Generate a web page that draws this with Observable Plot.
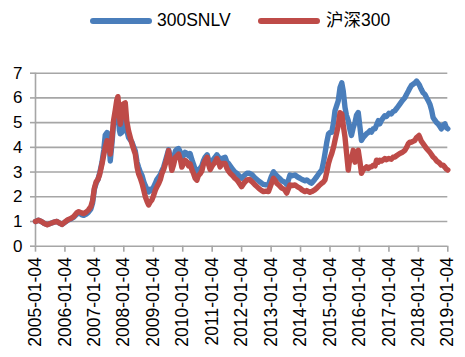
<!DOCTYPE html>
<html>
<head>
<meta charset="utf-8">
<script src="https://cdn.jsdelivr.net/npm/d3@7"></script>
<script src="https://cdn.jsdelivr.net/npm/@observablehq/plot@0.6"></script>
<style>
  body { margin: 0; background: #fff; font-family: "Liberation Sans", Arial, "Noto Sans CJK SC", sans-serif; }
  #wrap { width: 465px; }
  #legend { position: relative; height: 40px; width: 465px; }
  .sw { position: absolute; top: 18px; width: 62px; height: 6px; border-radius: 3px; }
  .lb { position: absolute; top: 10px; font-size: 17.5px; line-height: 20px; color: #000; white-space: nowrap; }
  svg { display: block; }
</style>
</head>
<body>
<div id="wrap">
  <div id="legend"></div>
  <div id="chart"></div>
</div>
<script>
const seriesNames = ["300SNLV", "沪深300"];
const seriesColors = ["#4a7ebb", "#be4b48"];
const tickLabels = ["2005-01-04","2006-01-04","2007-01-04","2008-01-04","2009-01-04","2010-01-04","2011-01-04","2012-01-04","2013-01-04","2014-01-04","2015-01-04","2016-01-04","2017-01-04","2018-01-04","2019-01-04"];
const yTicks = [0, 1, 2, 3, 4, 5, 6, 7];

// time in decimal years
const years = [
2005.00,2005.10,2005.20,2005.30,2005.40,2005.50,2005.60,2005.73,2005.82,2005.90,
2006.00,2006.10,2006.20,2006.30,2006.40,2006.47,2006.56,2006.64,2006.72,2006.80,2006.88,2006.94,
2007.00,2007.06,2007.12,2007.18,2007.26,2007.32,2007.37,2007.43,2007.48,2007.54,2007.60,2007.65,2007.71,2007.76,2007.80,2007.85,2007.88,2007.93,2007.98,
2008.05,2008.10,2008.16,2008.22,2008.28,2008.34,2008.39,2008.45,2008.50,2008.56,2008.62,2008.68,2008.73,2008.79,2008.84,2008.90,2008.95,
2009.01,2009.07,2009.12,2009.18,2009.24,2009.29,2009.35,2009.41,2009.47,2009.52,2009.57,2009.63,2009.69,2009.75,2009.80,2009.86,2009.92,2009.97,
2010.03,2010.08,2010.15,2010.20,2010.25,2010.31,2010.37,2010.42,2010.48,2010.53,2010.59,2010.65,2010.70,2010.76,2010.83,2010.88,2010.93,
2011.00,2011.10,2011.16,2011.22,2011.27,2011.33,2011.44,2011.50,2011.55,2011.61,2011.70,2011.77,2011.84,2011.92,
2012.00,2012.08,2012.18,2012.27,2012.35,2012.44,2012.52,2012.60,2012.68,2012.74,2012.83,2012.91,
2013.00,2013.08,2013.14,2013.19,2013.28,2013.36,2013.45,2013.53,2013.58,2013.64,2013.72,2013.81,2013.90,2013.98,
2014.05,2014.15,2014.21,2014.32,2014.38,2014.48,2014.55,2014.63,2014.72,2014.78,2014.83,2014.89,2014.95,
2015.00,2015.06,2015.12,2015.17,2015.23,2015.28,2015.34,2015.40,2015.45,2015.51,2015.56,2015.62,2015.68,2015.73,2015.79,2015.85,2015.90,2015.96,
2016.02,2016.07,2016.13,2016.19,2016.24,2016.30,2016.36,2016.41,2016.47,2016.53,2016.58,2016.64,2016.69,2016.75,2016.81,2016.86,2016.92,
2017.00,2017.08,2017.14,2017.20,2017.28,2017.37,2017.46,2017.54,2017.60,2017.66,2017.71,2017.76,2017.82,2017.88,2017.94,
2018.02,2018.05,2018.10,2018.16,2018.22,2018.28,2018.33,2018.39,2018.45,2018.50,2018.56,2018.62,2018.67,2018.73,2018.78,2018.84,2018.90,2018.95,
2019.00
];

const snlv = [
1.00,1.05,1.00,0.92,0.88,0.92,0.96,1.00,0.93,0.88,
0.97,1.05,1.10,1.17,1.30,1.35,1.28,1.25,1.30,1.38,1.50,1.75,
2.30,2.55,2.70,2.95,3.40,3.90,4.50,4.60,4.55,3.45,4.20,4.90,5.30,5.60,5.60,4.70,4.55,4.60,4.70,
5.20,4.70,4.40,4.30,4.20,4.00,3.85,3.40,3.20,3.00,2.85,2.60,2.45,2.30,2.20,2.30,2.25,
2.40,2.55,2.70,2.80,2.90,3.05,3.20,3.45,3.70,3.90,3.65,3.35,3.55,3.85,3.92,3.95,3.80,3.55,
3.70,3.80,3.75,3.65,3.75,3.50,3.30,3.10,3.00,3.10,3.15,3.25,3.45,3.60,3.70,3.50,3.35,
3.45,3.60,3.70,3.60,3.45,3.55,3.60,3.40,3.35,3.25,3.10,3.00,2.95,2.85,
2.75,2.85,2.95,2.95,2.90,2.78,2.70,2.62,2.55,2.50,2.48,2.48,
2.80,3.01,2.92,2.85,2.75,2.65,2.60,2.50,2.65,2.88,2.85,2.88,2.80,2.75,
2.70,2.65,2.68,2.58,2.55,2.70,2.81,2.95,3.08,3.40,3.75,4.20,4.55,
4.60,4.61,5.00,5.48,5.70,5.88,6.41,6.61,6.28,5.61,5.30,5.08,4.70,4.48,4.80,5.01,5.30,5.41,
4.80,4.28,4.40,4.48,4.55,4.60,4.68,4.62,4.75,4.75,4.90,5.08,4.95,5.10,5.20,5.28,5.25,
5.38,5.35,5.45,5.48,5.60,5.75,5.90,6.01,6.15,6.28,6.40,6.50,6.55,6.60,6.68,
6.55,6.48,6.35,6.21,6.15,6.01,5.90,5.75,5.50,5.21,5.10,5.00,4.95,4.85,4.75,4.90,4.95,4.80,
4.75
];

const hs300 = [
1.00,1.05,1.00,0.92,0.87,0.92,0.96,1.00,0.93,0.88,
0.98,1.07,1.12,1.20,1.35,1.40,1.35,1.32,1.38,1.47,1.60,1.85,
2.35,2.60,2.70,2.90,3.33,3.70,4.00,4.27,4.20,3.73,4.40,5.07,5.50,5.90,6.05,5.30,4.93,5.30,5.75,
5.80,5.07,4.67,4.40,4.13,3.90,3.73,3.20,2.93,2.75,2.53,2.25,2.00,1.80,1.67,1.80,1.87,
2.05,2.27,2.40,2.53,2.70,2.93,3.10,3.33,3.60,3.87,3.50,3.07,3.30,3.60,3.65,3.73,3.50,3.20,
3.35,3.47,3.40,3.25,3.33,3.10,2.93,2.75,2.67,2.85,2.93,3.05,3.30,3.47,3.60,3.30,3.10,
3.25,3.40,3.55,3.40,3.21,3.35,3.35,3.15,3.05,2.95,2.85,2.75,2.68,2.55,
2.41,2.55,2.68,2.70,2.61,2.50,2.41,2.32,2.25,2.21,2.23,2.21,
2.50,2.75,2.65,2.55,2.45,2.35,2.30,2.15,2.30,2.48,2.45,2.48,2.40,2.35,
2.28,2.21,2.25,2.18,2.21,2.28,2.35,2.45,2.55,2.60,2.68,3.00,3.35,
3.55,3.75,4.00,4.28,4.60,4.88,5.40,5.35,4.90,4.41,3.80,3.08,3.61,3.50,3.88,3.40,3.70,3.88,
3.40,2.95,3.10,3.15,3.21,3.15,3.21,3.21,3.28,3.25,3.48,3.40,3.48,3.45,3.50,3.55,3.50,
3.55,3.52,3.60,3.61,3.68,3.75,3.80,3.88,4.00,4.15,4.21,4.20,4.25,4.28,4.40,
4.48,4.40,4.25,4.15,4.05,3.95,3.88,3.80,3.70,3.61,3.55,3.45,3.41,3.35,3.28,3.28,3.20,3.12,
3.08
];

const toDate = t => {
  const y = Math.floor(t);
  const a = Date.UTC(y, 0, 4), b = Date.UTC(y + 1, 0, 4);
  return new Date(a + (t - y) * (b - a));
};
const tickDates = tickLabels.map(s => new Date(s + "T00:00:00Z"));
const data = years.map((t, i) => ({date: toDate(t), snlv: snlv[i], hs300: hs300[i]}));

// legend
const legend = document.getElementById("legend");
const legendPos = [[90, 157], [258, 326]];
seriesNames.forEach((name, i) => {
  const sw = document.createElement("div");
  sw.className = "sw";
  sw.style.left = legendPos[i][0] + "px";
  sw.style.background = seriesColors[i];
  legend.appendChild(sw);
  const lb = document.createElement("span");
  lb.className = "lb";
  lb.style.left = legendPos[i][1] + "px";
  lb.textContent = name;
  legend.appendChild(lb);
});

const grid = "#a6a6a6";
const chart = Plot.plot({
  width: 465,
  height: 317,
  marginLeft: 35,
  marginRight: 17.7,
  marginTop: 32.7,
  marginBottom: 111.3,
  style: {fontFamily: '"Liberation Sans", Arial, "Noto Sans CJK SC", sans-serif', background: "#fff", color: "#000"},
  x: {type: "utc", domain: [tickDates[0], tickDates[tickDates.length - 1]]},
  y: {domain: [0, 7]},
  marks: [
    Plot.gridY(yTicks, {stroke: grid, strokeOpacity: 1, strokeWidth: 1.6}),
    Plot.ruleX([tickDates[0]], {stroke: grid, strokeWidth: 1.6}),
    Plot.axisY(yTicks, {tickSize: 5, tickPadding: 8, fontSize: 17, stroke: grid, strokeWidth: 1.6, fill: "#000", label: null}),
    Plot.axisX(tickDates, {
      tickSize: 6, tickPadding: 5, tickRotate: -90, fontSize: 17.5,
      stroke: grid, strokeWidth: 1.6, fill: "#000", label: null,
      tickFormat: d => tickLabels[tickDates.findIndex(t => +t === +d)]
    }),
    Plot.line(data, {x: "date", y: "snlv", stroke: seriesColors[0], strokeWidth: 5.4, strokeLinejoin: "round", strokeLinecap: "round"}),
    Plot.line(data, {x: "date", y: "hs300", stroke: seriesColors[1], strokeWidth: 5.4, strokeLinejoin: "round", strokeLinecap: "round"})
  ]
});
document.getElementById("chart").appendChild(chart);
</script>
</body>
</html>
